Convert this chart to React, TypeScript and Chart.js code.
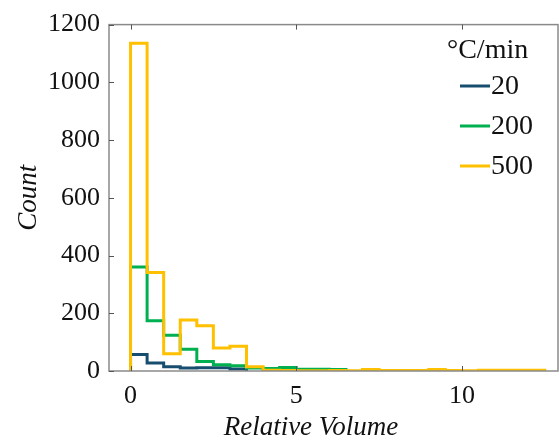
import React, { useEffect, useRef } from "react";
import { Chart, registerables } from "chart.js";

Chart.register(...registerables);

// Histogram bin width (relative volume units); bins start at 0.
const BIN_WIDTH = 0.5;

// Counts per bin for each heating rate (°C/min).
const RATE_LABELS = ["20", "200", "500"];
const COUNTS_20 = [57, 28, 15, 10, 11, 11, 7];
const COUNTS_200 = [360, 174, 124, 75, 33, 22, 18, 10, 9, 12, 6, 6, 5];
const COUNTS_500 = [
  1135, 341, 60, 177, 157, 80, 86, 15, 3, 2, 1, 1, 2, 1, 5, 2, 2, 2, 5, 2, 1, 3, 3,
  3, 3,
];

const X_TICKS = [0, 5, 10];
const Y_TICKS = [0, 200, 400, 600, 800, 1000, 1200];
const X_TITLE = "Relative Volume";

const COLORS = ["#174d6f", "#00b050", "#ffc000"];
const SERIF = "'Liberation Serif', 'Times New Roman', serif";

// Turn bin counts into a stepped outline that starts and ends on the baseline.
function outline(counts: number[]) {
  const pts = [{ x: 0, y: 0 }];
  counts.forEach((c, i) => pts.push({ x: i * BIN_WIDTH, y: c }));
  pts.push({ x: counts.length * BIN_WIDTH, y: 0 });
  return pts;
}

// Gray box around the plot with inward-pointing tick marks.
const framePlugin = {
  id: "frame",
  afterDatasetsDraw(chart: any) {
    const { ctx, chartArea: a, scales } = chart;
    ctx.save();
    ctx.strokeStyle = "#8a8a8a";
    ctx.lineWidth = 1.5;
    ctx.strokeRect(a.left, a.top, a.right - a.left, a.bottom - a.top);
    ctx.lineWidth = 1;
    ctx.strokeStyle = "#555";
    const len = 5;
    ctx.beginPath();
    X_TICKS.forEach((v) => {
      const px = Math.round(scales.x.getPixelForValue(v)) + 0.5;
      ctx.moveTo(px, a.bottom);
      ctx.lineTo(px, a.bottom - len);
      ctx.moveTo(px, a.top);
      ctx.lineTo(px, a.top + len);
    });
    Y_TICKS.forEach((v) => {
      const py = Math.round(scales.y.getPixelForValue(v)) + 0.5;
      ctx.moveTo(a.left, py);
      ctx.lineTo(a.left + len, py);
    });
    ctx.stroke();
    ctx.restore();
  },
};

// Legend with a title inside the upper right corner, plus the x-axis title.
const legendPlugin = {
  id: "rateLegend",
  afterDraw(chart: any) {
    const { ctx } = chart;
    ctx.save();
    ctx.font = `28px ${SERIF}`;
    ctx.fillStyle = "#111";
    ctx.textBaseline = "alphabetic";
    ctx.textAlign = "left";
    ctx.fillText("°C/min", 447, 58);
    ctx.textBaseline = "middle";
    chart.data.datasets.forEach((ds: any, i: number) => {
      const y = 86 + i * 40;
      ctx.strokeStyle = ds.borderColor;
      ctx.lineWidth = 3;
      ctx.beginPath();
      ctx.moveTo(460, y);
      ctx.lineTo(490, y);
      ctx.stroke();
      ctx.fillStyle = "#111";
      ctx.fillText(ds.label, 491, y + 1);
    });

    ctx.font = `italic 27px ${SERIF}`;
    ctx.textAlign = "center";
    ctx.textBaseline = "alphabetic";
    ctx.fillText(X_TITLE, 311, 435);
    ctx.restore();
  },
};

export default function App() {
  const canvasRef = useRef<HTMLCanvasElement | null>(null);

  useEffect(() => {
    if (!canvasRef.current) return;
    const series = [COUNTS_20, COUNTS_200, COUNTS_500];
    const chart = new Chart(canvasRef.current, {
      type: "line",
      data: {
        datasets: series.map((counts, i) => ({
          label: RATE_LABELS[i],
          data: outline(counts),
          borderColor: COLORS[i],
          borderWidth: 3,
          pointRadius: 0,
          fill: false,
          // horizontal at each bin's count, then vertical at the bin edge
          stepped: "before" as const,
          // the fastest rate sits on top
          order: series.length - i,
        })),
      },
      options: {
        animation: false,
        responsive: false,
        layout: { padding: { top: 19, right: 1, left: 0, bottom: 0 } },
        plugins: { legend: { display: false }, tooltip: { enabled: false } },
        scales: {
          x: {
            type: "linear",
            min: -0.65,
            max: 12.9,
            afterBuildTicks: (s: any) => {
              s.ticks = X_TICKS.map((v) => ({ value: v }));
            },
            afterFit: (s: any) => {
              s.height = 70;
            },
            grid: { display: false, drawTicks: false },
            border: { display: false },
            ticks: {
              font: { family: SERIF, size: 26 },
              color: "#111",
              padding: 10,
              maxRotation: 0,
              callback: (v: any) => String(v),
            },
          },
          y: {
            type: "linear",
            min: 0,
            max: 1200,
            afterBuildTicks: (s: any) => {
              s.ticks = Y_TICKS.map((v) => ({ value: v }));
            },
            afterFit: (s: any) => {
              s.width = 109;
            },
            grid: { display: false, drawTicks: false },
            border: { display: false },
            ticks: {
              font: { family: SERIF, size: 26 },
              color: "#111",
              padding: 9,
              callback: (v: any) => String(v),
            },
            title: {
              display: true,
              text: "Count",
              font: { family: SERIF, size: 27, style: "italic" },
              color: "#111",
              padding: { top: 13, bottom: 0 },
            },
          },
        },
      },
      plugins: [framePlugin, legendPlugin],
    });
    return () => chart.destroy();
  }, []);

  return (
    <div
      style={{
        position: "absolute",
        left: 0,
        top: 0,
        width: 559,
        height: 441,
        background: "#fff",
      }}
    >
      <canvas ref={canvasRef} width={559} height={441} />
    </div>
  );
}
